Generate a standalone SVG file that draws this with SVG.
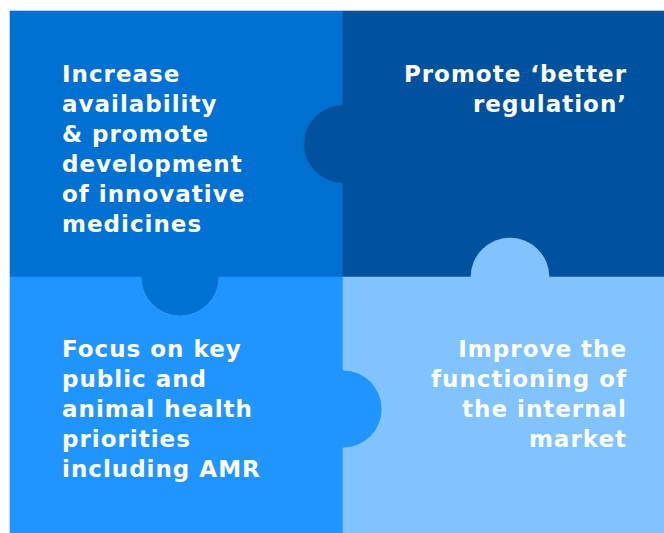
<svg xmlns="http://www.w3.org/2000/svg" width="664" height="533" viewBox="0 0 664 533">
  <style>
    .piece { stroke-width: 0.6; }
    .t { font-family: "DejaVu Sans", Verdana, sans-serif; font-weight: bold; font-size: 23px; fill: #ffffff; letter-spacing: 1px; }
    .r { text-anchor: end; }
  </style>
  <rect width="664" height="533" fill="#ffffff"/>
  <g id="piece-top-left">
    <path class="piece" fill="#0070D2" stroke="#0070D2" d="M10,11 H343 V105 A39,39 0 0 0 343,183 V277 H219 A39,39 0 0 1 141,277 H10 Z"/>
    <text class="t" x="62" y="82">Increase</text>
    <text class="t" x="62" y="112">availability</text>
    <text class="t" x="62" y="142">&amp; promote</text>
    <text class="t" x="62" y="172">development</text>
    <text class="t" x="62" y="202">of innovative</text>
    <text class="t" x="62" y="232">medicines</text>
  </g>
  <g id="piece-top-right">
    <path class="piece" fill="#00529F" stroke="#00529F" d="M343,11 H664 V277 H549 A39,39 0 0 0 471,277 H343 V183 A39,39 0 0 1 343,105 Z"/>
    <text class="t r" x="627" y="82">Promote ‘better</text>
    <text class="t r" x="627" y="112">regulation’</text>
  </g>
  <g id="piece-bottom-left">
    <path class="piece" fill="#2195FF" stroke="#2195FF" d="M10,277 H141 A39,39 0 0 0 219,277 H343 V370 A39,39 0 0 1 343,448 V533 H10 Z"/>
    <text class="t" x="62" y="357">Focus on key</text>
    <text class="t" x="62" y="387">public and</text>
    <text class="t" x="62" y="417">animal health</text>
    <text class="t" x="62" y="447">priorities</text>
    <text class="t" x="62" y="477">including AMR</text>
  </g>
  <g id="piece-bottom-right">
    <path class="piece" fill="#80C3FF" stroke="#80C3FF" d="M343,277 H471 A39,39 0 0 1 549,277 H664 V533 H343 V448 A39,39 0 0 0 343,370 Z"/>
    <text class="t r" x="627" y="357">Improve the</text>
    <text class="t r" x="627" y="387">functioning of</text>
    <text class="t r" x="627" y="417">the internal</text>
    <text class="t r" x="627" y="447">market</text>
  </g>
  <g id="connectors"></g>
</svg>
